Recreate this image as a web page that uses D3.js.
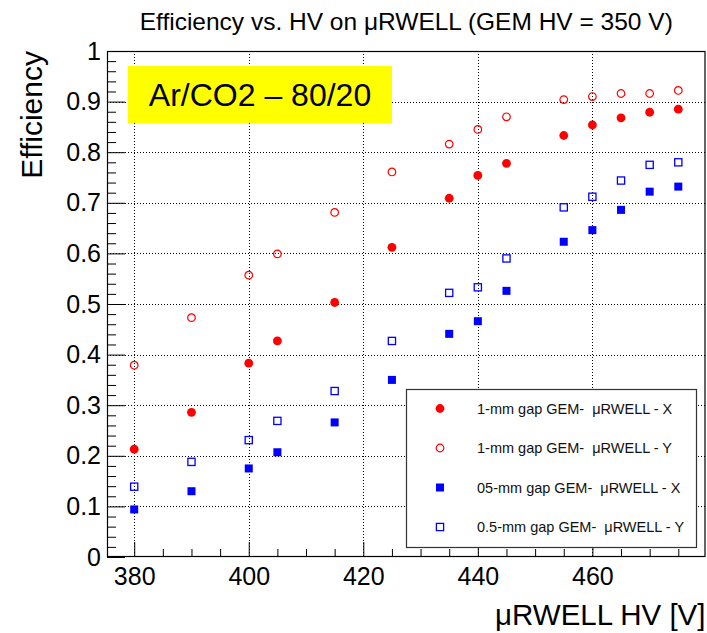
<!DOCTYPE html>
<html>
<head>
<meta charset="utf-8">
<script src="https://cdn.jsdelivr.net/npm/d3@7"></script>
<style>
    body { margin: 0; background: #fff; }
    svg { font-family: "Liberation Sans", Arial, Helvetica, sans-serif; }
</style>
</head>
<body>
<svg id="chart" width="707" height="633"></svg>
<script>
// HV points (V) shared by all four series
const hv = [380, 390, 400, 405, 415, 425, 435, 440, 445, 455, 460, 465, 470, 475];

// efficiency
const eff1mmX  = [0.213, 0.286, 0.383, 0.427, 0.503, 0.612, 0.709, 0.754, 0.778, 0.833, 0.854, 0.868, 0.879, 0.885];
const eff1mmY  = [0.379, 0.473, 0.557, 0.599, 0.681, 0.761, 0.816, 0.845, 0.870, 0.904, 0.910, 0.916, 0.916, 0.922];
const eff05mmX = [0.094, 0.130, 0.175, 0.207, 0.266, 0.350, 0.441, 0.466, 0.526, 0.623, 0.646, 0.686, 0.722, 0.732];
const eff05mmY = [0.139, 0.188, 0.231, 0.269, 0.328, 0.427, 0.522, 0.533, 0.590, 0.691, 0.712, 0.744, 0.775, 0.780];

const legendLabels = [
    "1-mm gap GEM-  \u03bcRWELL - X",
    "1-mm gap GEM-  \u03bcRWELL - Y",
    "05-mm gap GEM-  \u03bcRWELL - X",
    "0.5-mm gap GEM-  \u03bcRWELL - Y"
];

const xMajor = [380, 400, 420, 440, 460];
const xMinor = d3.range(385, 480, 5).filter(v => v % 20 !== 0);
const yMajor = d3.range(0, 11).map(i => i / 10);
const yMinor = d3.range(1, 50).map(i => i / 50).filter((v, i) => (i + 1) % 5 !== 0);

const series = [
    { values: eff1mmX,  color: "#ff0000", shape: "circle", filled: true },
    { values: eff1mmY,  color: "#ff0000", shape: "circle", filled: false },
    { values: eff05mmX, color: "#0000ff", shape: "square", filled: true },
    { values: eff05mmY, color: "#0000ff", shape: "square", filled: false }
];

const svg = d3.select("#chart");
const frame = { left: 107, right: 705.5, top: 51, bottom: 557 };

const x = d3.scaleLinear().domain([375.25, 479.75]).range([frame.left, frame.right]);
const y = d3.scaleLinear().domain([0, 1]).range([frame.bottom, frame.top]);

// dotted grid
const grid = svg.append("g").attr("stroke", "#000").attr("stroke-width", 1)
    .attr("stroke-dasharray", "1,2").attr("shape-rendering", "crispEdges");
grid.selectAll(".gx").data(xMajor).enter().append("line")
    .attr("x1", d => Math.round(x(d)) + 0.5).attr("x2", d => Math.round(x(d)) + 0.5)
    .attr("y1", y(1)).attr("y2", y(0));
grid.selectAll(".gy").data(yMajor.filter(v => v > 0 && v < 1)).enter().append("line")
    .attr("y1", d => Math.round(y(d)) + 0.5).attr("y2", d => Math.round(y(d)) + 0.5)
    .attr("x1", x.range()[0]).attr("x2", x.range()[1]);

// axes, ticks pointing inside the frame
function styleAxis(g) {
    g.select(".domain").remove();
    g.selectAll("line").attr("stroke", "#000");
    g.selectAll("text").attr("fill", "#000").style("font-size", "25px");
}

svg.append("g")
    .attr("transform", `translate(0,${frame.bottom})`)
    .call(d3.axisBottom(x).tickValues(xMinor).tickSizeInner(-8).tickSizeOuter(0).tickFormat(""))
    .call(styleAxis);
svg.append("g")
    .attr("transform", `translate(0,${frame.bottom})`)
    .call(d3.axisBottom(x).tickValues(xMajor).tickSizeInner(-15).tickSizeOuter(0).tickPadding(10).tickFormat(d3.format("d")))
    .call(styleAxis);

svg.append("g")
    .attr("transform", `translate(${frame.left},0)`)
    .call(d3.axisLeft(y).tickValues(yMinor).tickSizeInner(-9).tickSizeOuter(0).tickFormat(""))
    .call(styleAxis);
svg.append("g")
    .attr("transform", `translate(${frame.left},0)`)
    .call(d3.axisLeft(y).tickValues(yMajor).tickSizeInner(-18).tickSizeOuter(0).tickPadding(6).tickFormat(d => d3.format("")(+d.toFixed(1))))
    .call(styleAxis);

// frame
svg.append("rect")
    .attr("x", frame.left + 0.5).attr("y", frame.top + 0.5)
    .attr("width", frame.right - frame.left - 1).attr("height", frame.bottom - frame.top - 1)
    .attr("fill", "none").attr("stroke", "#000").attr("stroke-width", 1.2);

// gas label box
const gasBox = svg.append("g");
gasBox.append("rect")
    .attr("x", 128).attr("y", 66).attr("width", 264).attr("height", 57)
    .attr("fill", "#ffff00");
gasBox.append("text")
    .attr("x", 260).attr("y", 106)
    .attr("text-anchor", "middle")
    .style("font-size", "32px")
    .text("Ar/CO2 \u2013 80/20");

function drawMarker(sel, s) {
    if (s.shape === "circle") {
        sel.append("circle")
            .attr("r", s.filled ? 4.4 : 3.8)
            .attr("fill", s.filled ? s.color : "none")
            .attr("stroke", s.filled ? "none" : s.color)
            .attr("stroke-width", 1.2);
    } else {
        const side = s.filled ? 8 : 7.2;
        sel.append("rect")
            .attr("x", -side / 2).attr("y", -side / 2)
            .attr("width", side).attr("height", side)
            .attr("fill", s.filled ? s.color : "none")
            .attr("stroke", s.filled ? "none" : s.color)
            .attr("stroke-width", 1.3);
    }
}

// data points
series.forEach(s => {
    svg.append("g").selectAll("g")
        .data(hv.map((v, i) => ({ hv: v, eff: s.values[i] })))
        .enter().append("g")
        .attr("transform", d => `translate(${x(d.hv)},${y(d.eff)})`)
        .each(function () { drawMarker(d3.select(this), s); });
});

// legend
const legend = svg.append("g");
legend.append("rect")
    .attr("x", 406.5).attr("y", 389.5).attr("width", 290).attr("height", 158)
    .attr("fill", "#fff").attr("stroke", "#333").attr("stroke-width", 1.2);

const rowY = d3.scalePoint().domain(d3.range(series.length)).range([408.5, 527]);
series.forEach((s, i) => {
    const row = legend.append("g").attr("transform", `translate(440,${rowY(i)})`);
    drawMarker(row, s);
    legend.append("text")
        .attr("x", 477).attr("y", rowY(i) + 5)
        .attr("fill", "#111")
        .style("font-size", "14.5px")
        .style("white-space", "pre")
        .text(legendLabels[i]);
});

// titles
svg.append("text")
    .attr("x", (frame.left + frame.right) / 2).attr("y", 30)
    .attr("text-anchor", "middle")
    .style("font-size", "24.5px")
    .text("Efficiency vs. HV on \u03bcRWELL (GEM HV = 350 V)");

svg.append("text")
    .attr("transform", `translate(42,${frame.top}) rotate(-90)`)
    .attr("text-anchor", "end")
    .style("font-size", "30px")
    .text("Efficiency");

svg.append("text")
    .attr("x", frame.right).attr("y", 625)
    .attr("text-anchor", "end")
    .style("font-size", "29.5px")
    .text("\u03bcRWELL HV [V]");
</script>
</body>
</html>
